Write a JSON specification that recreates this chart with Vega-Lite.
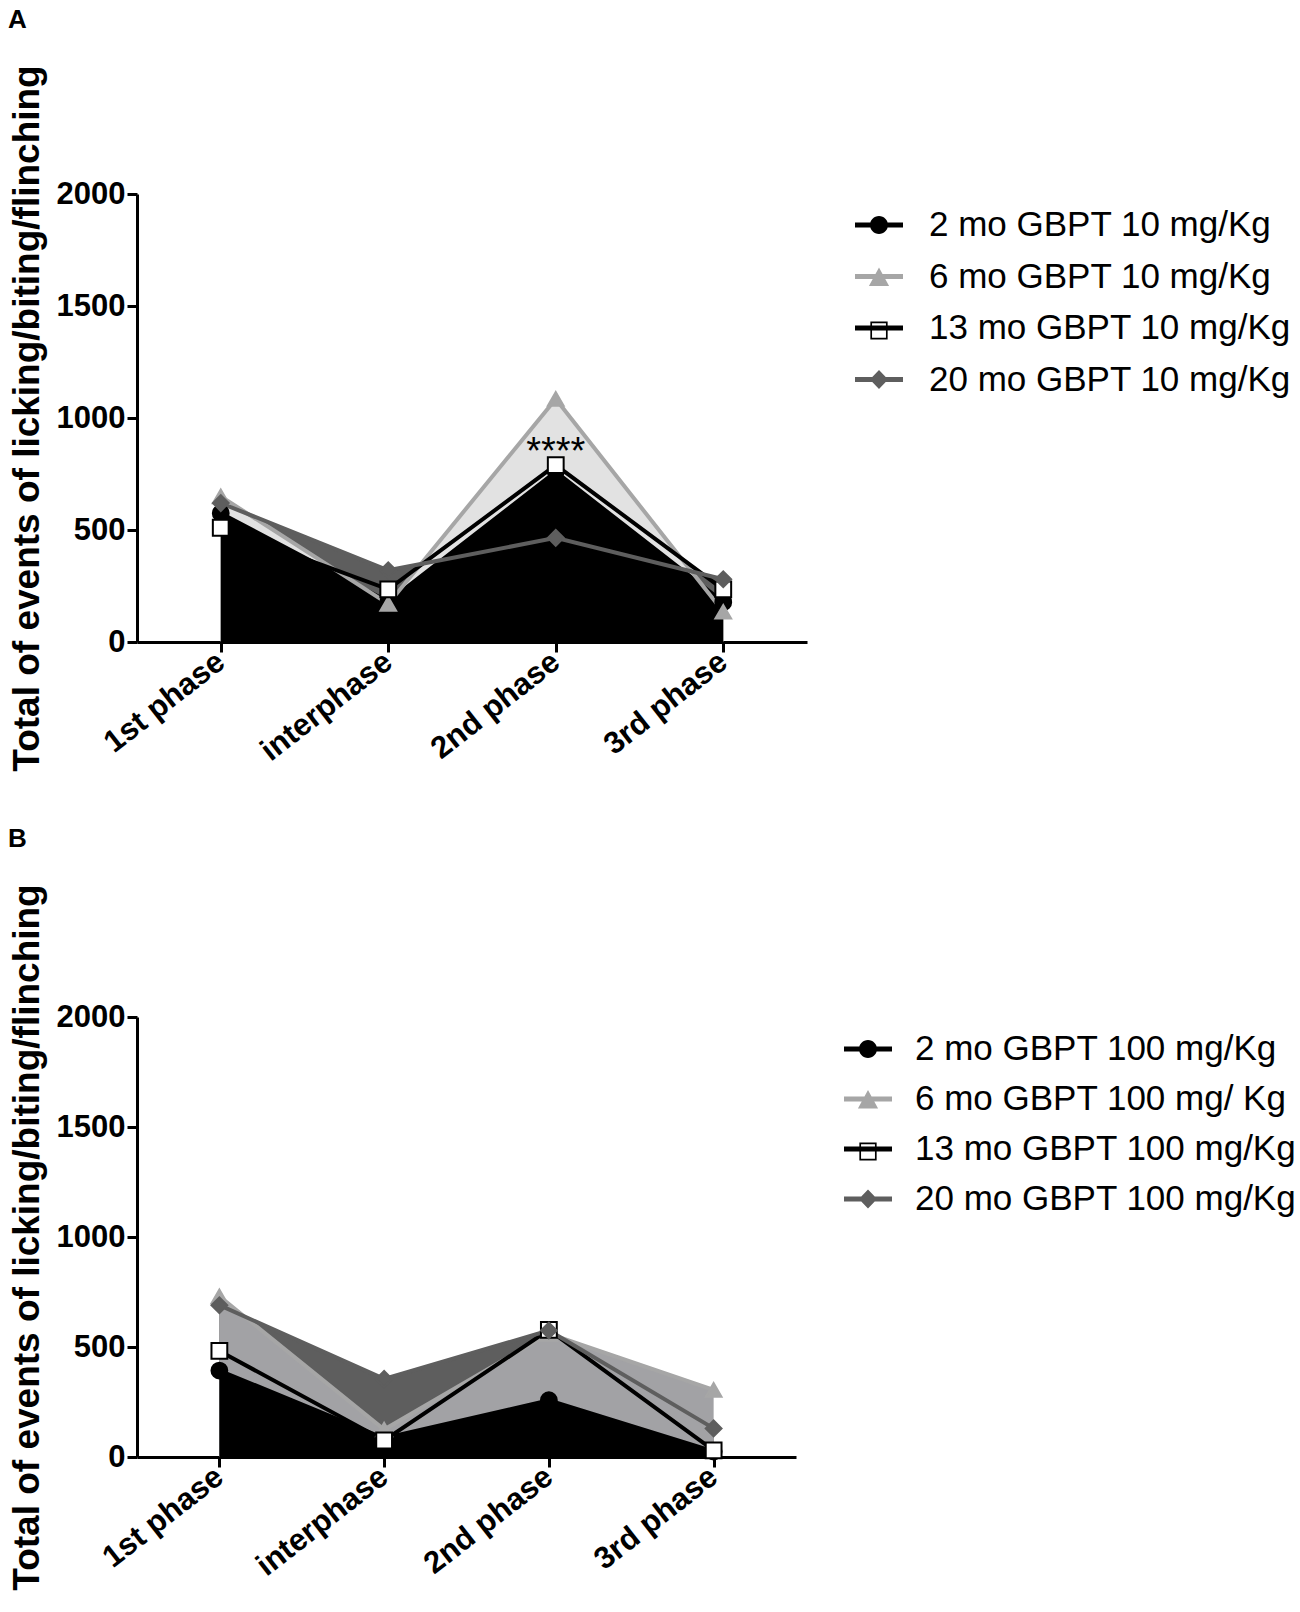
{
  "$schema": "https://vega.github.io/schema/vega-lite/v6.json",
  "background": "white",
  "padding": {"left": 8, "top": 6, "right": 0, "bottom": 5},
  "spacing": 48,
  "datasets": {
    "a": [
      {"phase": "1st phase", "age": "2 mo", "series": "2 mo GBPT 10 mg/Kg", "value": 575},
      {"phase": "interphase", "age": "2 mo", "series": "2 mo GBPT 10 mg/Kg", "value": 180},
      {"phase": "2nd phase", "age": "2 mo", "series": "2 mo GBPT 10 mg/Kg", "value": 760},
      {"phase": "3rd phase", "age": "2 mo", "series": "2 mo GBPT 10 mg/Kg", "value": 178},
      {"phase": "1st phase", "age": "6 mo", "series": "6 mo GBPT 10 mg/Kg", "value": 650},
      {"phase": "interphase", "age": "6 mo", "series": "6 mo GBPT 10 mg/Kg", "value": 170},
      {"phase": "2nd phase", "age": "6 mo", "series": "6 mo GBPT 10 mg/Kg", "value": 1085},
      {"phase": "3rd phase", "age": "6 mo", "series": "6 mo GBPT 10 mg/Kg", "value": 135},
      {"phase": "1st phase", "age": "13 mo", "series": "13 mo GBPT 10 mg/Kg", "value": 510},
      {"phase": "interphase", "age": "13 mo", "series": "13 mo GBPT 10 mg/Kg", "value": 235},
      {"phase": "2nd phase", "age": "13 mo", "series": "13 mo GBPT 10 mg/Kg", "value": 790},
      {"phase": "3rd phase", "age": "13 mo", "series": "13 mo GBPT 10 mg/Kg", "value": 235},
      {"phase": "1st phase", "age": "20 mo", "series": "20 mo GBPT 10 mg/Kg", "value": 620},
      {"phase": "interphase", "age": "20 mo", "series": "20 mo GBPT 10 mg/Kg", "value": 320},
      {"phase": "2nd phase", "age": "20 mo", "series": "20 mo GBPT 10 mg/Kg", "value": 465},
      {"phase": "3rd phase", "age": "20 mo", "series": "20 mo GBPT 10 mg/Kg", "value": 280}
    ],
    "b": [
      {"phase": "1st phase", "age": "2 mo", "series": "2 mo GBPT 100 mg/Kg", "value": 393},
      {"phase": "interphase", "age": "2 mo", "series": "2 mo GBPT 100 mg/Kg", "value": 85},
      {"phase": "2nd phase", "age": "2 mo", "series": "2 mo GBPT 100 mg/Kg", "value": 258},
      {"phase": "3rd phase", "age": "2 mo", "series": "2 mo GBPT 100 mg/Kg", "value": 25},
      {"phase": "1st phase", "age": "6 mo", "series": "6 mo GBPT 100 mg/ Kg", "value": 730},
      {"phase": "interphase", "age": "6 mo", "series": "6 mo GBPT 100 mg/ Kg", "value": 125},
      {"phase": "2nd phase", "age": "6 mo", "series": "6 mo GBPT 100 mg/ Kg", "value": 560},
      {"phase": "3rd phase", "age": "6 mo", "series": "6 mo GBPT 100 mg/ Kg", "value": 305},
      {"phase": "1st phase", "age": "13 mo", "series": "13 mo GBPT 100 mg/Kg", "value": 482},
      {"phase": "interphase", "age": "13 mo", "series": "13 mo GBPT 100 mg/Kg", "value": 75},
      {"phase": "2nd phase", "age": "13 mo", "series": "13 mo GBPT 100 mg/Kg", "value": 578},
      {"phase": "3rd phase", "age": "13 mo", "series": "13 mo GBPT 100 mg/Kg", "value": 30},
      {"phase": "1st phase", "age": "20 mo", "series": "20 mo GBPT 100 mg/Kg", "value": 690},
      {"phase": "interphase", "age": "20 mo", "series": "20 mo GBPT 100 mg/Kg", "value": 355},
      {"phase": "2nd phase", "age": "20 mo", "series": "20 mo GBPT 100 mg/Kg", "value": 575},
      {"phase": "3rd phase", "age": "20 mo", "series": "20 mo GBPT 100 mg/Kg", "value": 130}
    ],
    "stars": [
      {"phase": "2nd phase", "value": 845, "label": "****"}
    ]
  },
  "vconcat": [
    {
      "title": {"text": "A", "anchor": "start", "frame": "bounds", "fontSize": 26, "fontWeight": "bold", "offset": 27},
      "width": 670,
      "height": 448,
      "data": {"name": "a"},
      "encoding": {
        "x": {
          "field": "phase",
          "type": "nominal",
          "scale": {"type": "point", "padding": 0.5, "domain": ["1st phase", "interphase", "2nd phase", "3rd phase"]},
          "axis": {"title": null, "labelAngle": -38, "labelAlign": "right", "labelBaseline": "middle", "labelPadding": 6}
        },
        "y": {
          "field": "value",
          "type": "quantitative",
          "scale": {"domain": [0, 2000], "nice": false},
          "axis": {"values": [0, 500, 1000, 1500, 2000], "format": "d", "title": "Total of events of  licking/biting/flinching", "titlePadding": 10}
        }
      },
      "layer": [
        {
          "transform": [{"filter": "datum.age == '20 mo'"}],
          "mark": {"type": "area", "color": "#5e5e5e", "opacity": 1},
          "encoding": {}
        },
        {
          "transform": [{"filter": "datum.age == '6 mo'"}],
          "mark": {"type": "area", "color": "#e2e2e2", "opacity": 1},
          "encoding": {}
        },
        {
          "transform": [{"filter": "datum.age == '2 mo'"}],
          "mark": {"type": "area", "color": "#000000", "opacity": 1},
          "encoding": {}
        },
        {
          "mark": {"type": "line", "strokeWidth": 4},
          "encoding": {
            "color": {
              "field": "series",
              "type": "nominal",
              "scale": {
                "domain": ["2 mo GBPT 10 mg/Kg", "6 mo GBPT 10 mg/Kg", "13 mo GBPT 10 mg/Kg", "20 mo GBPT 10 mg/Kg"],
                "range": ["#000000", "#a6a6a6", "#000000", "#5e5e5e"]
              },
              "legend": {
                "title": null,
                "orient": "none",
                "legendX": 718,
                "legendY": 7,
                "padding": 0,
                "symbolSize": 2304,
                "labelFontSize": 35,
                "labelColor": "black",
                "labelOffset": 26,
                "labelLimit": 0,
                "rowPadding": 9.5,
                "encode": {
                  "symbols": {
                    "update": {
                      "shape": {"signal": "datum.value == '2 mo GBPT 10 mg/Kg' ? 'M-1,-0.1H1V0.1H-1ZM-0.375,0A0.375,0.375,0,1,1,0.375,0A0.375,0.375,0,1,1,-0.375,0Z' : datum.value == '6 mo GBPT 10 mg/Kg' ? 'M-1,-0.1H1V0.1H-1ZM0,-0.38L0.42,0.4L-0.42,0.4Z' : datum.value == '13 mo GBPT 10 mg/Kg' ? 'M-1,-0.1H1V0.1H-1ZM-0.36,-0.27H0.36V0.48H-0.36ZM-0.29,-0.2V0.41H0.29V-0.2Z' : 'M-1,-0.1H1V0.1H-1ZM0,-0.4L0.38,0L0,0.4L-0.38,0Z'"},
                      "fill": {"signal": "datum.value == '6 mo GBPT 10 mg/Kg' ? '#a6a6a6' : datum.value == '20 mo GBPT 10 mg/Kg' ? '#5e5e5e' : '#000000'"},
                      "stroke": {"value": "transparent"},
                      "strokeWidth": {"value": 0},
                      "opacity": {"value": 1}
                    }
                  }
                }
              }
            }
          }
        },
        {
          "mark": {"type": "point", "opacity": 1, "size": 250, "strokeWidth": 2},
          "encoding": {
            "shape": {
              "field": "age",
              "type": "nominal",
              "scale": {"domain": ["2 mo", "6 mo", "13 mo", "20 mo"], "range": ["circle", "triangle-up", "square", "diamond"]},
              "legend": null
            },
            "fill": {
              "field": "age",
              "type": "nominal",
              "scale": {"domain": ["2 mo", "6 mo", "13 mo", "20 mo"], "range": ["#000000", "#a6a6a6", "#ffffff", "#5e5e5e"]},
              "legend": null
            },
            "stroke": {
              "field": "age",
              "type": "nominal",
              "scale": {"domain": ["2 mo", "6 mo", "13 mo", "20 mo"], "range": ["#000000", "#a6a6a6", "#000000", "#5e5e5e"]},
              "legend": null
            }
          }
        },
        {
          "data": {"name": "stars"},
          "mark": {"type": "text", "fontSize": 38, "baseline": "middle", "color": "black"},
          "encoding": {"text": {"field": "label"}}
        }
      ]
    },
    {
      "title": {"text": "B", "anchor": "start", "frame": "bounds", "fontSize": 26, "fontWeight": "bold", "offset": 27},
      "width": 659,
      "height": 440,
      "data": {"name": "b"},
      "encoding": {
        "x": {
          "field": "phase",
          "type": "nominal",
          "scale": {"type": "point", "padding": 0.5, "domain": ["1st phase", "interphase", "2nd phase", "3rd phase"]},
          "axis": {"title": null, "labelAngle": -38, "labelAlign": "right", "labelBaseline": "middle", "labelPadding": 6}
        },
        "y": {
          "field": "value",
          "type": "quantitative",
          "scale": {"domain": [0, 2000], "nice": false},
          "axis": {"values": [0, 500, 1000, 1500, 2000], "format": "d", "title": "Total of events of  licking/biting/flinching", "titlePadding": 10}
        }
      },
      "layer": [
        {
          "transform": [{"filter": "datum.age == '20 mo'"}],
          "mark": {"type": "area", "color": "#5e5e5e", "opacity": 1},
          "encoding": {}
        },
        {
          "transform": [{"filter": "datum.age == '6 mo'"}],
          "mark": {"type": "area", "color": "#a2a2a5", "opacity": 1},
          "encoding": {}
        },
        {
          "transform": [{"filter": "datum.age == '2 mo'"}],
          "mark": {"type": "area", "color": "#000000", "opacity": 1},
          "encoding": {}
        },
        {
          "mark": {"type": "line", "strokeWidth": 4},
          "encoding": {
            "color": {
              "field": "series",
              "type": "nominal",
              "scale": {
                "domain": ["2 mo GBPT 100 mg/Kg", "6 mo GBPT 100 mg/ Kg", "13 mo GBPT 100 mg/Kg", "20 mo GBPT 100 mg/Kg"],
                "range": ["#000000", "#a6a6a6", "#000000", "#5e5e5e"]
              },
              "legend": {
                "title": null,
                "orient": "none",
                "legendX": 707,
                "legendY": 8,
                "padding": 0,
                "symbolSize": 2304,
                "labelFontSize": 35,
                "labelColor": "black",
                "labelOffset": 23,
                "labelLimit": 0,
                "rowPadding": 8,
                "encode": {
                  "symbols": {
                    "update": {
                      "shape": {"signal": "datum.value == '2 mo GBPT 100 mg/Kg' ? 'M-1,-0.1H1V0.1H-1ZM-0.375,0A0.375,0.375,0,1,1,0.375,0A0.375,0.375,0,1,1,-0.375,0Z' : datum.value == '6 mo GBPT 100 mg/ Kg' ? 'M-1,-0.1H1V0.1H-1ZM0,-0.38L0.42,0.4L-0.42,0.4Z' : datum.value == '13 mo GBPT 100 mg/Kg' ? 'M-1,-0.1H1V0.1H-1ZM-0.36,-0.27H0.36V0.48H-0.36ZM-0.29,-0.2V0.41H0.29V-0.2Z' : 'M-1,-0.1H1V0.1H-1ZM0,-0.4L0.38,0L0,0.4L-0.38,0Z'"},
                      "fill": {"signal": "datum.value == '6 mo GBPT 100 mg/ Kg' ? '#a6a6a6' : datum.value == '20 mo GBPT 100 mg/Kg' ? '#5e5e5e' : '#000000'"},
                      "stroke": {"value": "transparent"},
                      "strokeWidth": {"value": 0},
                      "opacity": {"value": 1}
                    }
                  }
                }
              }
            }
          }
        },
        {
          "mark": {"type": "point", "opacity": 1, "size": 250, "strokeWidth": 2},
          "encoding": {
            "shape": {
              "field": "age",
              "type": "nominal",
              "scale": {"domain": ["2 mo", "6 mo", "13 mo", "20 mo"], "range": ["circle", "triangle-up", "square", "diamond"]},
              "legend": null
            },
            "fill": {
              "field": "age",
              "type": "nominal",
              "scale": {"domain": ["2 mo", "6 mo", "13 mo", "20 mo"], "range": ["#000000", "#a6a6a6", "#ffffff", "#5e5e5e"]},
              "legend": null
            },
            "stroke": {
              "field": "age",
              "type": "nominal",
              "scale": {"domain": ["2 mo", "6 mo", "13 mo", "20 mo"], "range": ["#000000", "#a6a6a6", "#000000", "#5e5e5e"]},
              "legend": null
            }
          }
        }
      ]
    }
  ],
  "resolve": {
    "scale": {"color": "independent"},
    "legend": {"color": "independent"}
  },
  "config": {
    "font": "Liberation Sans",
    "view": {"stroke": null},
    "title": {"color": "black", "font": "Liberation Sans"},
    "axis": {
      "grid": false,
      "domainColor": "black",
      "domainWidth": 3,
      "tickColor": "black",
      "tickWidth": 3,
      "tickSize": 10,
      "labelFont": "Liberation Sans",
      "labelFontSize": 31,
      "labelFontWeight": "bold",
      "labelColor": "black",
      "titleFont": "Liberation Sans",
      "titleFontSize": 37,
      "titleFontWeight": "bold",
      "titleColor": "black"
    },
    "legend": {"labelFont": "Liberation Sans"}
  }
}
